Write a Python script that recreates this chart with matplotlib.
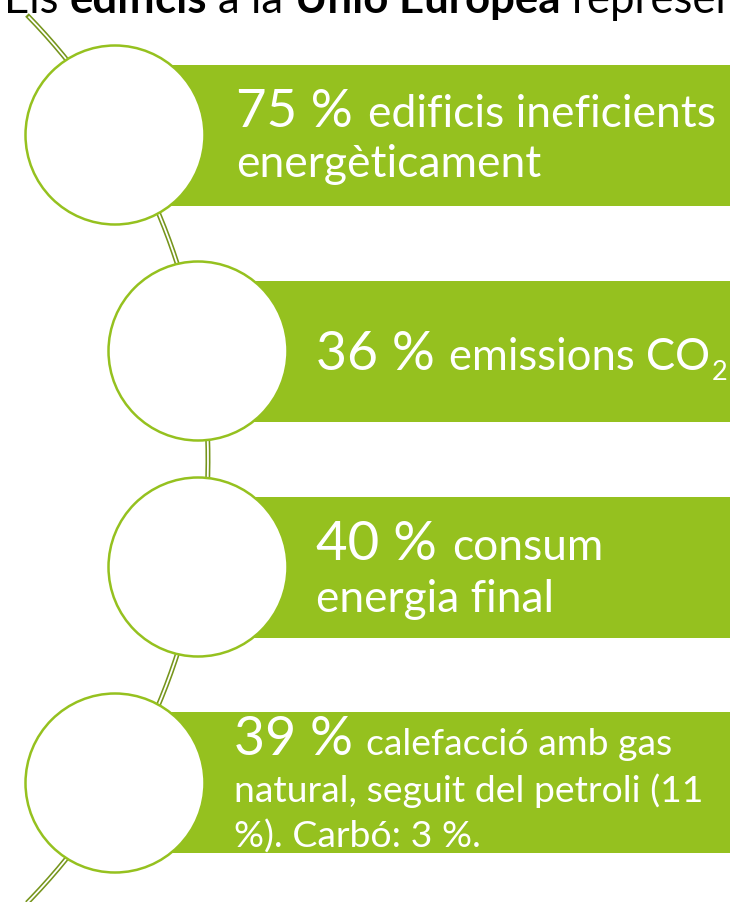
import matplotlib.pyplot as plt
from matplotlib.patches import Circle, Rectangle
import numpy as np

FONT = 'Lato'
GREEN = '#95c11f'
DARK = '#76951c'

# title runs (text, bold?)
title_runs = [("Els", False), ("edificis", True), ("a la", False),
              ("Unió Europea", True), ("representen:", False)]

# list items
pct_labels = ["75 %", "36 %", "40 %", "39 %"]
desc_first = ["edificis ineficients", "emissions CO", "consum", "calefacció amb gas"]
desc_rest = [["energèticament"], [], ["energia final"],
             ["natural, seguit del petroli (11", "%). Carbó: 3 %."]]
subscripts = ["", "2", "", ""]

# layout (pixels, y down)
circle_x = [115, 198, 198, 115]
circle_y = [135, 351, 567, 783]
R = 89.5
bar_top = [65, 281, 497, 712]
bar_h = 141
text_x = [236, 316, 316, 234]
base_y = [127, 370, 560, 755]
line_gap = [50, 50, 52, 46.5]
big_end = [353, 435, 437, 353]      # right end of the big "xx %"
line1_end = [715, 711, 603, 672]    # right end of first line

fig = plt.figure(figsize=(7.3, 9.02), dpi=100)
ax = fig.add_axes([0, 0, 1, 1])
ax.set_xlim(0, 730)
ax.set_ylim(902, 0)
ax.axis('off')
renderer = fig.canvas.get_renderer()


def width(text, size, bold=False):
    t = ax.text(0, 0, text, fontsize=size, fontweight='bold' if bold else 'normal', family=FONT)
    w = t.get_window_extent(renderer).width
    t.remove()
    return w


def space(size, bold=False):
    return width('n n', size, bold) - width('nn', size, bold)


def put(x, y, text, size, bold=False, color='white'):
    t = ax.text(x, y, text, fontsize=size, fontweight='bold' if bold else 'normal',
                family=FONT, color=color, va='baseline', ha='left', zorder=5)
    return x + t.get_window_extent(renderer).width


# the big arc behind the circles (double line)
acx, acy, ar = -427, 459, 635
th = np.linspace(np.arcsin((15 - acy) / ar), np.arcsin((915 - acy) / ar), 300)
ax.plot(acx + ar * np.cos(th), acy + ar * np.sin(th), color=DARK, lw=3.6,
        solid_capstyle='butt', zorder=1)
th2 = np.linspace(np.arcsin((16.5 - acy) / ar), np.arcsin((915 - acy) / ar), 300)
ax.plot(acx + ar * np.cos(th2), acy + ar * np.sin(th2), color='white', lw=1.3,
        solid_capstyle='butt', zorder=1.1)

for i in range(4):
    ax.add_patch(Rectangle((circle_x[i], bar_top[i]), 740 - circle_x[i], bar_h,
                           facecolor=GREEN, lw=0, zorder=2))
    ax.add_patch(Circle((circle_x[i], circle_y[i]), R, facecolor='white',
                        edgecolor=GREEN, lw=1.8, zorder=3))

    # fit the big part and the small part to the widths seen in the picture
    big = 40.0
    big *= (big_end[i] - text_x[i]) / width(pct_labels[i], big)
    small = 30.0
    small *= (line1_end[i] - big_end[i]) / (space(small) * 1.3 + width(desc_first[i], small))

    put(text_x[i], base_y[i], pct_labels[i], big)
    x = big_end[i] + space(small) * 1.3
    x = put(x, base_y[i], desc_first[i], small)
    if subscripts[i]:
        put(x + 1, base_y[i] + 10, subscripts[i], small * 0.62)
    for k, line in enumerate(desc_rest[i]):
        put(text_x[i], base_y[i] + line_gap[i] * (k + 1), line, small)

# title, mostly cut off at the top edge
tsize = 50 * 0.72
natural = sum(width(t, tsize, b) for t, b in title_runs[:4]) + 3 * space(tsize)
tsize *= (560 - 4) / natural
x = 4
for j, (t, b) in enumerate(title_runs):
    if j:
        x += space(tsize)
    x = put(x, 13, t, tsize, bold=b, color='black')

plt.savefig("out.png", dpi=100)
